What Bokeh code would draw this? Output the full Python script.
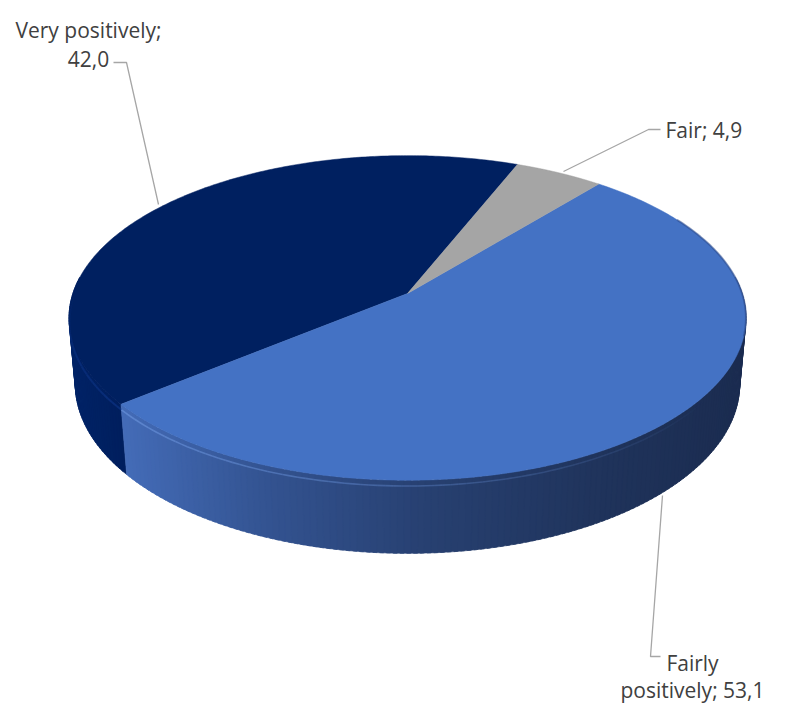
import numpy as np
from bokeh.plotting import figure
from bokeh.models import Range1d
from bokeh.core.properties import value
from bokeh.embed import file_html
from bokeh.resources import INLINE

# ---- data ----
categories = ["Very positively", "Fairly positively", "Fair"]
values = [42.0, 53.1, 4.9]
top_colors = ["#002060", "#4472C4", "#A5A5A5"]

# ---- layout / camera ----
W, H = 769, 706
start_deg = 22.0          # slices run counter-clockwise from here
cx, cy = 407.0, 293.0
F = 1956.7
r = 0.171
elev = np.radians(28.3)
s, c = np.sin(elev), np.cos(elev)
hh = 0.0388


def proj(phi_deg, hgt):
    ph = np.radians(phi_deg)
    X = r * np.sin(ph)
    Z = r * np.cos(ph)
    Y = -hgt
    depth = 1 + Z * c - Y * s
    up = Y * c + Z * s
    return cx + F * X / depth, cy - F * up / depth


p = figure(width=W, height=H, output_backend="svg", toolbar_location=None,
           x_range=Range1d(0, W), y_range=Range1d(H, 0),
           min_border=0)
p.axis.visible = False
p.grid.visible = False
p.outline_line_color = None
p.background_fill_color = "white"
p.border_fill_color = "white"

total = sum(values)
spans = [v / total * 360.0 for v in values]
ranges = []
cum = 0.0
for sp in spans:
    a1 = start_deg - cum
    a0 = a1 - sp
    cum += sp
    a0m = a0 % 360.0
    ranges.append((a0m, a0m + sp))


def side_color(i, x):
    if i == 1:
        xs = [120, 260, 420, 600, 750]
        rr = [68, 52, 40, 32, 27]
        gg = [108, 84, 65, 52, 44]
        bb = [184, 146, 114, 92, 80]
    elif i == 0:
        xs = [60, 130]
        rr = [0, 0]
        gg = [36, 30]
        bb = [104, 92]
    else:
        xs = [0, 800]
        rr = [130, 130]; gg = [130, 130]; bb = [130, 130]
    R_ = int(np.interp(x, xs, rr)); G_ = int(np.interp(x, xs, gg)); B_ = int(np.interp(x, xs, bb))
    return "#%02x%02x%02x" % (R_, G_, B_)

# ---- side walls ----
xs_all, ys_all, cols = [], [], []
for i, (a0, a1) in enumerate(ranges):
    lo, hi = max(a0, 84.0), min(a1, 276.0)
    if hi <= lo:
        lo, hi = max(a0 - 360, 84.0), min(a1 - 360, 276.0)
        if hi <= lo:
            continue
    n = max(2, int((hi - lo) / 1.0))
    edges = np.linspace(lo, hi, n + 1)
    for j in range(n):
        ph = np.linspace(edges[j], min(edges[j + 1] + 0.6, hi), 4)
        tx, ty = proj(ph, 0.0)
        bx, by = proj(ph[::-1], hh)
        xs_all.append(list(np.concatenate([tx, bx])))
        ys_all.append(list(np.concatenate([ty, by])))
        cols.append(side_color(i, float(np.mean(tx))))
p.patches(xs_all, ys_all, fill_color=cols, line_color=cols, line_width=0.6)

# ---- top faces ----
for i, (a0, a1) in enumerate(ranges):
    ph = np.linspace(a0, a1, 240)
    tx, ty = proj(ph, 0.0)
    px_ = np.concatenate([[cx], tx])
    py_ = np.concatenate([[cy], ty])
    p.patch(list(px_), list(py_), fill_color=top_colors[i], line_color=top_colors[i], line_width=0.5)

# soft dark rim on right-hand top edge of the blue slice
a0, a1 = ranges[1]
ph = np.linspace(max(a0, 60), 105, 60)
tx, ty = proj(ph, 0.0)
p.line(list(tx), list(ty), line_color="#2a4684", line_width=2, line_alpha=0.5)

# soft bevel highlight along front edge of the blue slice
ph = np.linspace(125, a1, 90)
for j in range(len(ph) - 1):
    seg = np.array([ph[j], ph[j + 1]])
    tx, ty = proj(seg, 0.003)
    alpha = float(np.interp(ph[j], [125, 180, a1], [0.0, 0.35, 0.6]))
    p.line(list(tx), list(ty), line_color="#6f98e0", line_width=1.6, line_alpha=alpha)
# bevel highlight on the navy slice
a0v, a1v = ranges[0]
ph = np.linspace(a0v, 272, 30)
for j in range(len(ph) - 1):
    seg = np.array([ph[j], ph[j + 1]])
    tx, ty = proj(seg, 0.003)
    alpha = float(np.interp(ph[j], [a0v, 250, 272], [0.45, 0.3, 0.0]))
    p.line(list(tx), list(ty), line_color="#15409a", line_width=2, line_alpha=alpha)

# ---- leader lines ----
lc = "#A6A6A6"
p.line([113, 126, 158], [62, 62, 204], line_color=lc, line_width=1.3)
p.line([563, 648, 660], [171, 129, 129], line_color=lc, line_width=1.3)
p.line([662, 650, 660], [495, 656, 656], line_color=lc, line_width=1.3)

# ---- labels ----
def fmt(v):
    return ("%.1f" % v).replace(".", ",")

font = value("Open Sans")
tc = "#404040"
fs = "21px"
p.text(x=[88, 88], y=[29, 58], text=[categories[0] + ";", fmt(values[0])],
       text_font=font, text_font_size=fs, text_color=tc, text_align="center",
       text_baseline="alphabetic")
p.text(x=[665], y=[129], text=[categories[2] + "; " + fmt(values[2])],
       text_font=font, text_font_size=fs, text_color=tc, text_align="left",
       text_baseline="alphabetic")
w1, w2 = categories[1].split(" ")
p.text(x=[692, 692], y=[662, 689], text=[w1, w2 + "; " + fmt(values[1])],
       text_font=font, text_font_size=fs, text_color=tc, text_align="center",
       text_baseline="alphabetic")

open("out.html", "w").write(file_html(p, INLINE))
